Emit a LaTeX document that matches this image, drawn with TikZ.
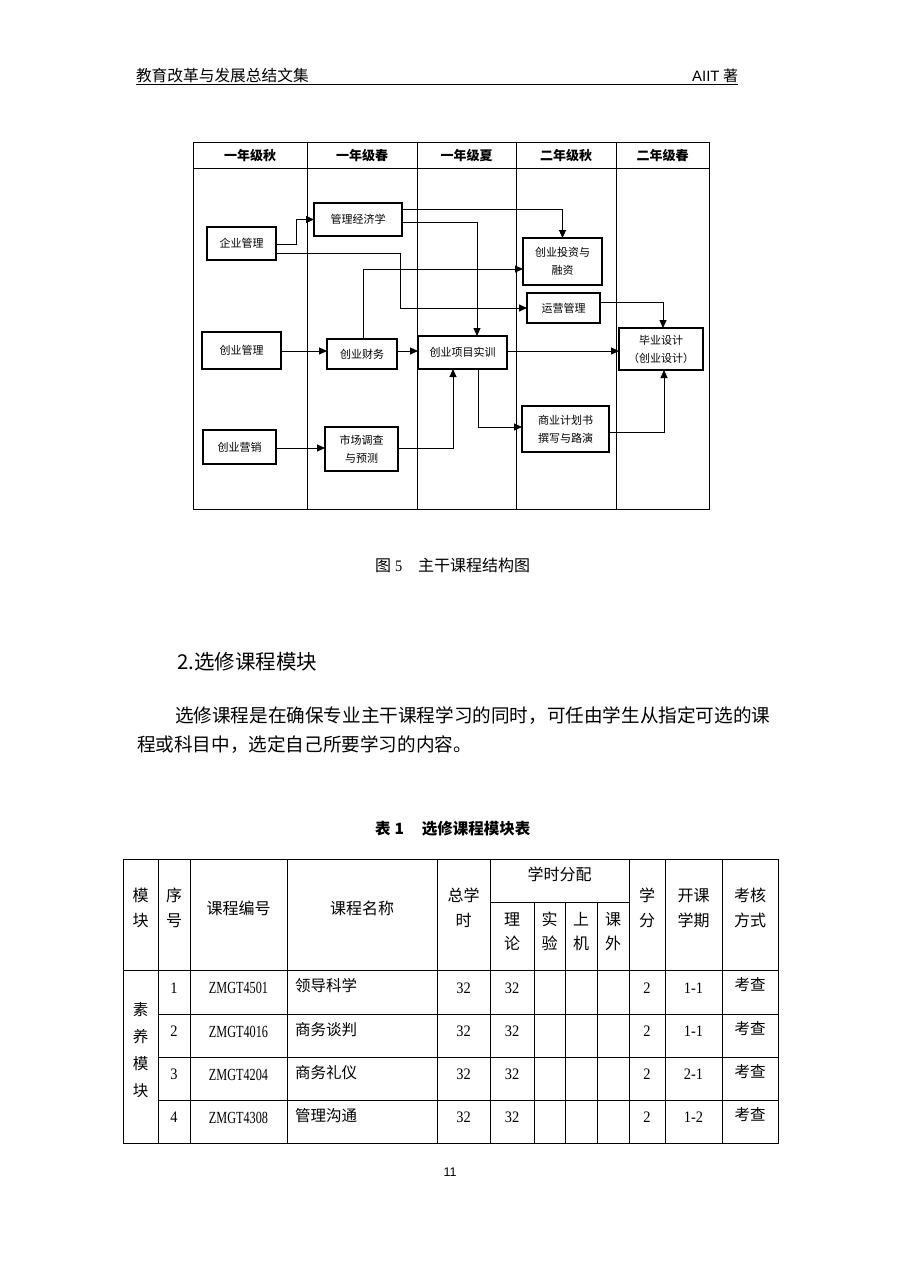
\documentclass[tikz,border=0pt]{standalone}
\usepackage{fontspec}
\setmainfont{Noto Sans CJK SC}
\newfontfamily\latinserif[FakeStretch=0.9]{Liberation Serif}
\newfontfamily\codefont[FakeStretch=0.72]{Liberation Serif}
\newfontfamily\latinsans{Liberation Sans}
\usetikzlibrary{arrows.meta}
\tikzset{
  every node/.style={inner sep=0pt, outer sep=0pt},
  box/.style={draw, line width=1.1pt, align=center, font=\fontsize{11}{18}\selectfont},
  arr/.style={line width=0.9pt, -{Triangle[length=8pt,width=7pt]}},
  frame/.style={line width=1pt},
  colhead/.style={font=\fontsize{13}{15}\selectfont\bfseries},
  tbl/.style={line width=0.9pt},
  th/.style={font=\fontsize{16}{24.5}\selectfont, align=center},
  td/.style={font=\fontsize{15.5}{18}\selectfont},
  tnum/.style={font=\fontsize{16}{18}\selectfont\latinserif},
  tcode/.style={font=\fontsize{17}{18}\selectfont\codefont},
}
\begin{document}
\begin{tikzpicture}[x=1pt, y=-1pt]
\useasboundingbox (0,0) rectangle (900,1272);
\fill[white] (0,0) rectangle (900,1272);

% ---------- page header ----------
\node[anchor=west, font=\fontsize{15.7}{18}\selectfont] (hdl) at (136,76) {教育改革与发展总结文集};
\node[anchor=east, font=\fontsize{15}{18}\selectfont] (hdr) at (738,76) {{\latinsans AIIT} 著};
\draw[line width=1pt] (136,84.5) -- (738,84.5);

% ---------- diagram frame ----------
\draw[frame] (193,142) rectangle (709,509);
\draw[frame] (193,168) -- (709,168);
\foreach \x in {307,417,516,616} \draw[frame] (\x,142) -- (\x,509);
\node[colhead] (h1) at (250,155.5) {一年级秋};
\node[colhead] (h2) at (362,155.5) {一年级春};
\node[colhead] (h3) at (466.5,155.5) {一年级夏};
\node[colhead] (h4) at (566,155.5) {二年级秋};
\node[colhead] (h5) at (662.5,155.5) {二年级春};

% ---------- boxes ----------
\node[box, minimum width=69pt, minimum height=33pt] (A) at (241.5,243.5) {企业管理};
\node[box, minimum width=88pt, minimum height=33pt] (B) at (358,219.5) {管理经济学};
\node[box, minimum width=79pt, minimum height=47pt] (C) at (562.5,261.5) {创业投资与\\融资};
\node[box, minimum width=73pt, minimum height=30pt] (D) at (563.5,308) {运营管理};
\node[box, minimum width=84pt, minimum height=42pt] (E) at (661,349) {毕业设计\\（创业设计）};
\node[box, minimum width=79pt, minimum height=37pt] (F) at (241.5,350.5) {创业管理};
\node[box, minimum width=70pt, minimum height=30pt] (G) at (362,354) {创业财务};
\node[box, minimum width=89pt, minimum height=33pt] (H) at (462.5,352.5) {创业项目实训};
\node[box, minimum width=87pt, minimum height=46pt] (I) at (565.5,429) {商业计划书\\撰写与路演};
\node[box, minimum width=73pt, minimum height=34pt] (J) at (239.5,447) {创业营销};
\node[box, minimum width=73pt, minimum height=44pt] (K) at (361.5,449) {市场调查\\与预测};

% ---------- connectors ----------
\draw[arr] (A.east |- 0,244) -- (296,244) |- (B.west);
\draw[arr] (B.east |- 0,209) -| (C.north);
\draw[arr] (B.east |- 0,222) -| (H.north -| 477,0);
\draw[arr] (A.east |- 0,253) -- (400,253) |- (D.west);
\draw[arr] (G.north -| 363,0) |- (C.west |- 0,269);
\draw[arr] (F.east |- 0,351) -- (G.west |- 0,351);
\draw[arr] (G.east |- 0,351) -- (H.west |- 0,351);
\draw[arr] (H.east |- 0,351) -- (E.west |- 0,351);
\draw[arr] (D.east |- 0,302) -| (E.north -| 663,0);
\draw[arr] (H.south -| 478,0) |- (I.west |- 0,427);
\draw[arr] (I.east |- 0,432) -| (E.south -| 664,0);
\draw[arr] (J.east |- 0,448) -- (K.west |- 0,448);
\draw[arr] (K.east |- 0,448) -| (H.south -| 453,0);

% ---------- caption ----------
\node[anchor=west, font=\fontsize{16}{18}\selectfont] (cap) at (375,565) {图\hskip 4pt{\latinserif 5}\hskip 16pt 主干课程结构图};

% ---------- section ----------
\node[anchor=west, font=\fontsize{20.5}{24}\selectfont] (sec) at (177,662) {2.选修课程模块};
\node[anchor=west, font=\fontsize{18.6}{22}\selectfont] (p1) at (175,716) {选修课程是在确保专业主干课程学习的同时，可任由学生从指定可选的课};
\node[anchor=west, font=\fontsize{18.6}{22}\selectfont] (p2) at (137,745) {程或科目中，选定自己所要学习的内容。};

% ---------- table caption ----------
\node[anchor=west, font=\fontsize{15.5}{18}\selectfont\bfseries] (tcap) at (375,829) {表\hskip 4pt 1\hskip 18pt 选修课程模块表};

% ---------- table ----------
\draw[tbl] (123,859) rectangle (778,1143);
\foreach \x in {158,190,287,437,490,629,665,722} \draw[tbl] (\x,859) -- (\x,1143);
\foreach \x in {534,565,597} \draw[tbl] (\x,902) -- (\x,1143);
\draw[tbl] (490,902) -- (629,902);
\draw[tbl] (123,970) -- (778,970);
\foreach \y in {1014,1057,1100} \draw[tbl] (158,\y) -- (778,\y);

\node[th] (t1) at (140.5,908) {模\\块};
\node[th] (t2) at (174,908) {序\\号};
\node[th] (t3) at (238.5,908) {课程编号};
\node[th] (t4) at (362,908) {课程名称};
\node[th] (t5) at (463.5,908) {总学\\时};
\node[th] (t6) at (559.5,874) {学时分配};
\node[th] (t7) at (512,931.5) {理\\论};
\node[th] (t8) at (549.5,931.5) {实\\验};
\node[th] (t9) at (581,931.5) {上\\机};
\node[th] (t10) at (613,931.5) {课\\外};
\node[th] (t11) at (647,908) {学\\分};
\node[th] (t12) at (693.5,908) {开课\\学期};
\node[th] (t13) at (750,908) {考核\\方式};

\node[td, align=center, font=\fontsize{15.5}{27}\selectfont] (mod) at (140.5,1050) {素\\养\\模\\块};

\foreach \y/\n/\code/\name/\term in {988/1/ZMGT4501/领导科学/1-1, 1031.5/2/ZMGT4016/商务谈判/1-1, 1074.5/3/ZMGT4204/商务礼仪/2-1, 1117.5/4/ZMGT4308/管理沟通/1-2}{
  \node[tnum] (n\n) at (174,\y) {\n};
  \node[tcode] (c\n) at (238.5,\y) {\code};
  \node[td, anchor=west] (m\n) at (295,\y-2) {\name};
  \node[tnum] (s\n) at (463.5,\y) {32};
  \node[tnum] (l\n) at (512,\y) {32};
  \node[tnum] (x\n) at (647,\y) {2};
  \node[tnum] (q\n) at (693.5,\y) {\term};
  \node[td] (k\n) at (750,\y-3) {考查};
}

% ---------- page number ----------
\node[font=\fontsize{12.5}{14}\selectfont\latinsans] (pg) at (450,1172) {11};
\end{tikzpicture}
\end{document}
